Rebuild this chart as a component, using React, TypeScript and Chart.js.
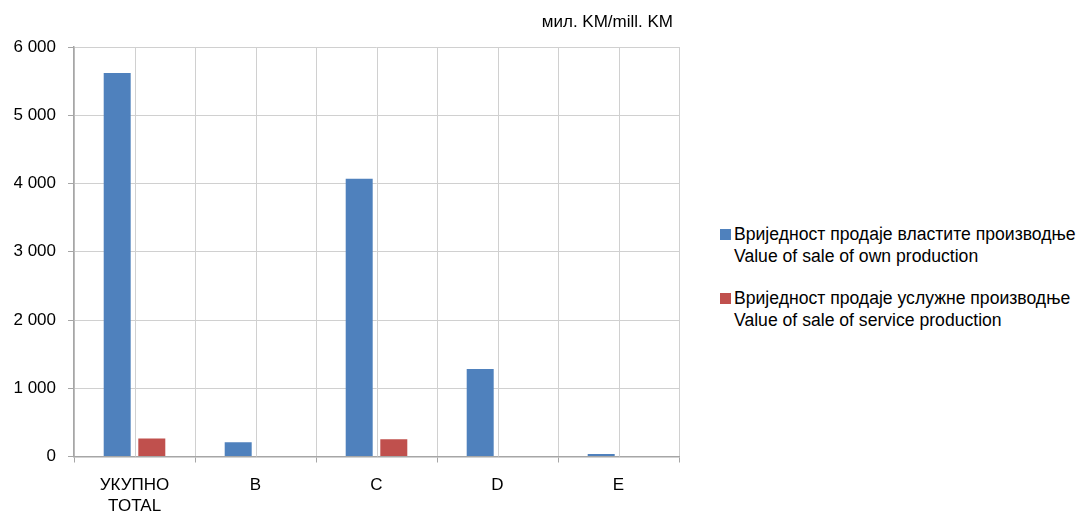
import React, { useEffect, useRef } from "react";
import { Chart, registerables } from "chart.js";

Chart.register(...registerables);

const categories: string[][] = [["УКУПНО", "TOTAL"], ["B"], ["C"], ["D"], ["E"]];
const ownProduction: number[] = [5620, 208, 4070, 1283, 37];
const serviceProduction: number[] = [265, 0, 252, 0, 0];
const seriesNames: string[][] = [
  ["Вриједност продаје властите производње", "Value of sale of own production"],
  ["Вриједност продаје услужне производње", "Value of sale of service production"],
];
const seriesColors: string[] = ["#4F81BD", "#C0504D"];
const unitLabel = "мил. KM/mill. KM";
const yTicks: number[] = [0, 1000, 2000, 3000, 4000, 5000, 6000];

const FONT = "'Liberation Sans', Arial, sans-serif";
const GRID = "#D0D0D0";
const AXIS = "#A6A6A6";

function fmt(v: number): string {
  const s = String(Math.round(v));
  return s.replace(/\B(?=(\d{3})+(?!\d))/g, " ");
}

// draws the extra vertical grid line through the middle of every category
const centerLines = {
  id: "centerLines",
  beforeDatasetsDraw(chart: any) {
    const { ctx, chartArea, scales } = chart;
    const x = scales.x;
    ctx.save();
    ctx.strokeStyle = GRID;
    ctx.lineWidth = 1;
    for (let i = 0; i < categories.length; i++) {
      const px = Math.round(x.getPixelForValue(i)) + 0.5;
      ctx.beginPath();
      ctx.moveTo(px, chartArea.top);
      ctx.lineTo(px, chartArea.bottom);
      ctx.stroke();
    }
    ctx.restore();
  },
};

export default function App() {
  const ref = useRef<HTMLCanvasElement | null>(null);

  useEffect(() => {
    if (!ref.current) return;
    const chart = new Chart(ref.current, {
      type: "bar",
      data: {
        labels: categories,
        datasets: [
          {
            label: seriesNames[0].join(" "),
            data: ownProduction,
            backgroundColor: seriesColors[0],
          },
          {
            label: seriesNames[1].join(" "),
            data: serviceProduction,
            backgroundColor: seriesColors[1],
          },
        ],
      },
      plugins: [centerLines],
      options: {
        animation: false,
        responsive: false,
        maintainAspectRatio: false,
        devicePixelRatio: 1,
        layout: { padding: { left: 14, right: 11, top: 47, bottom: 0 } },
        datasets: {
          bar: { categoryPercentage: 0.572, barPercentage: 0.78 },
        },
        plugins: {
          legend: { display: false },
          title: { display: false },
          tooltip: { enabled: false },
        },
        scales: {
          x: {
            type: "category",
            offset: true,
            afterFit: (axis: any) => {
              axis.height = 59.5;
            },
            grid: {
              offset: true,
              drawOnChartArea: true,
              color: GRID,
              drawTicks: true,
              tickLength: 6,
              tickColor: AXIS,
            },
            border: { display: true, color: AXIS, width: 1.5 },
            ticks: {
              color: "#000",
              padding: 12,
              font: { family: FONT, size: 17, lineHeight: 1.25 },
              maxRotation: 0,
              autoSkip: false,
            },
          },
          y: {
            type: "linear",
            min: 0,
            max: 6000,
            afterFit: (axis: any) => {
              axis.width = 60;
            },
            afterBuildTicks: (axis: any) => {
              axis.ticks = yTicks.map((v) => ({ value: v }));
            },
            grid: {
              color: GRID,
              tickColor: AXIS,
              tickLength: 6,
              drawTicks: true,
            },
            border: { display: true, color: AXIS, width: 1.5 },
            ticks: {
              color: "#000",
              padding: 12,
              font: { family: FONT, size: 17 },
              callback: (v: any) => fmt(Number(v)),
            },
          },
        },
      },
    });
    return () => chart.destroy();
  }, []);

  return (
    <div
      style={{
        position: "absolute",
        left: 0,
        top: 0,
        width: 1077,
        height: 516,
        background: "#fff",
        fontFamily: FONT,
        color: "#000",
      }}
    >
      <canvas
        ref={ref}
        width={690}
        height={516}
        style={{ position: "absolute", left: 0, top: 0, width: 690, height: 516 }}
      />
      <div
        style={{
          position: "absolute",
          left: 400,
          width: 273,
          top: 11,
          textAlign: "right",
          fontSize: 17,
          lineHeight: "22px",
          whiteSpace: "nowrap",
        }}
      >
        {unitLabel}
      </div>
      {seriesNames.map((lines, i) => (
        <div
          key={i}
          style={{
            position: "absolute",
            left: 720,
            top: 223 + i * 64,
            fontSize: 17.6,
            lineHeight: "22px",
            whiteSpace: "nowrap",
          }}
        >
          <span
            style={{
              position: "absolute",
              left: 0,
              top: 6,
              width: 11,
              height: 11,
              background: seriesColors[i],
            }}
          />
          <div style={{ marginLeft: 14 }}>
            {lines.map((l, j) => (
              <div key={j}>{l}</div>
            ))}
          </div>
        </div>
      ))}
    </div>
  );
}
